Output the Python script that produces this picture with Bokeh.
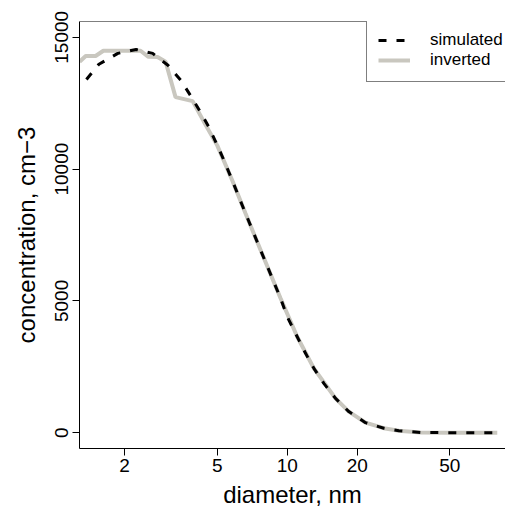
from bokeh.plotting import figure
from bokeh.models import (FixedTicker, Range1d, Legend, LegendItem, Span,
                          NumeralTickFormatter)
from bokeh.embed import file_html
from bokeh.resources import INLINE

# ---- data ----
d_sim = [1.37, 1.55, 1.87, 2.24, 2.64, 3.07, 3.48, 3.87, 4.27, 4.60, 5.0, 5.34,
         5.80, 6.19, 6.62, 7.18, 7.68, 9.36, 10.0, 11.04, 11.99, 13.02, 14.37,
         16.13, 18.40, 21.71, 26.02, 30.19, 37.4, 50, 65, 80]
n_sim = [13400, 13980, 14390, 14540, 14390, 13940, 13380, 12740, 12110, 11600,
         10910, 10340, 9580, 8950, 8320, 7560, 6930, 5100, 4400, 3640, 3010,
         2440, 1870, 1300, 800, 380, 170, 76, 10, 0, 0, 0]

d_inv = [1.28, 1.36, 1.50, 1.62, 2.34, 2.53, 2.77, 3.00, 3.31, 3.92, 4.38, 5.0,
         5.80, 6.62, 7.68, 9.36, 11.04, 13.02, 16.13, 18.40, 21.71, 26.02,
         30.19, 37.4, 50, 65, 80]
n_inv = [14070, 14290, 14290, 14490, 14490, 14260, 14250, 14070, 12730, 12580,
         11800, 10900, 9580, 8320, 6930, 5100, 3640, 2440, 1300, 800, 380, 170,
         76, 10, 0, 0, 0]

x_ticks = [2, 5, 10, 20, 50]
y_ticks = [0, 5000, 10000, 15000]
labels = ["simulated", "inverted"]

x_lo, x_hi = 1.279, 86.8
y_lo, y_hi = -600, 15600

FONT = "Liberation Sans"

p = figure(width=505, height=510, x_axis_type="log",
           x_range=Range1d(x_lo, x_hi), y_range=Range1d(y_lo, y_hi),
           output_backend="svg", toolbar_location=None,
           min_border_left=79, min_border_top=21, min_border_bottom=61,
           min_border_right=0)
p.grid.visible = False
p.outline_line_color = None
p.background_fill_color = "white"
p.border_fill_color = "white"

r_inv = p.line(d_inv, n_inv, line_color="#C9C7BF", line_width=4)
r_sim = p.line(d_sim, n_sim, line_color="black", line_width=3, line_dash="8 10")

for ax in (p.xaxis[0], p.yaxis[0]):
    ax.axis_line_color = "black"
    ax.major_tick_line_color = "black"
    ax.major_tick_in = 0
    ax.major_tick_out = 7
    ax.minor_tick_line_color = None
    ax.major_label_text_font = FONT
    ax.major_label_text_font_size = "19px"
    ax.major_label_text_color = "black"
    ax.formatter = NumeralTickFormatter(format="0")
    ax.axis_label_text_font = FONT
    ax.axis_label_text_font_size = "24px"
    ax.axis_label_text_font_style = "normal"
    ax.axis_label_text_color = "black"

p.xaxis.ticker = FixedTicker(ticks=x_ticks)
p.yaxis.ticker = FixedTicker(ticks=y_ticks)
p.xaxis.major_label_standoff = 3
p.yaxis.major_label_standoff = 4
p.yaxis.major_label_orientation = "vertical"

p.yaxis.axis_label = "concentration, cm\u22123"
p.yaxis.axis_label_standoff = 13
p.xaxis.axis_label = "diameter, nm"
p.xaxis.axis_label_standoff = 6

p.add_layout(Span(location=y_hi, dimension="width", line_color="black",
                  line_width=1))

legend = Legend(items=[LegendItem(label=labels[0], renderers=[r_sim]),
                       LegendItem(label=labels[1], renderers=[r_inv])],
                location=(287, 366), padding=11, spacing=0, margin=0,
                glyph_width=32, glyph_height=20, label_height=20,
                label_standoff=20, label_text_font=FONT,
                label_text_font_size="17px", label_text_color="black",
                border_line_color="black", border_line_width=1,
                background_fill_color="white", background_fill_alpha=1)
p.add_layout(legend)

open("out.html", "w").write(file_html(p, INLINE))
